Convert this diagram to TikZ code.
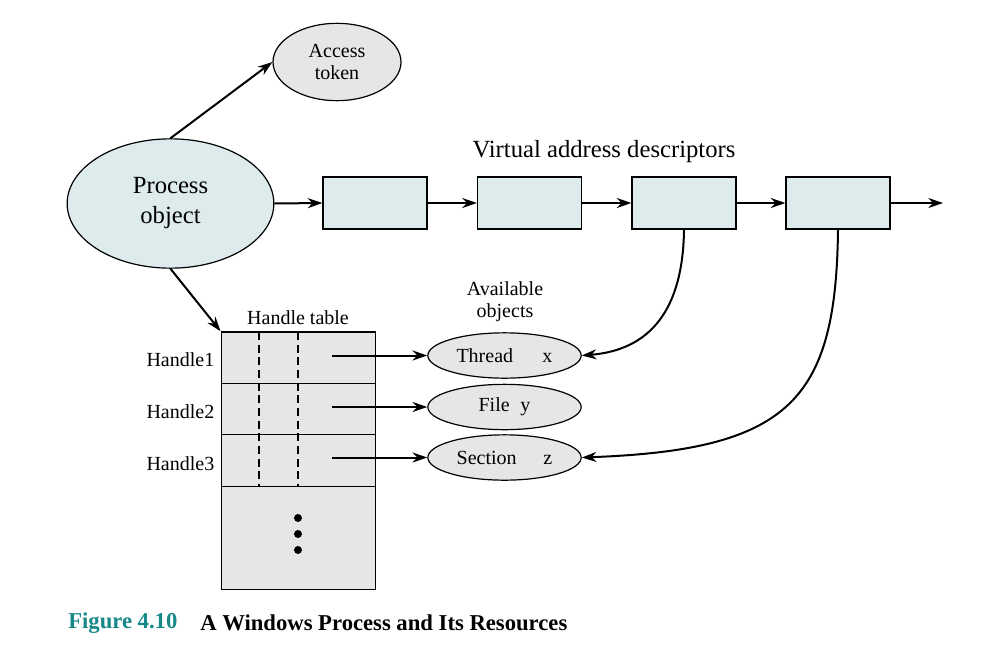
\documentclass[tikz,border=0pt]{standalone}
\usepackage{fontspec}
\setmainfont{Liberation Serif}
\usetikzlibrary{shapes.geometric,arrows.meta}
\definecolor{procblue}{RGB}{221,235,237}
\definecolor{objgray}{RGB}{230,230,232}
\definecolor{capteal}{RGB}{22,136,136}
\tikzset{
  big/.style={font=\fontsize{18.5}{22.5}\selectfont},
  med/.style={font=\fontsize{15}{16.5}\selectfont},
  arr/.style={line width=1.5pt,-{Stealth[length=11pt,width=7.5pt]}},
  vad/.style={draw,line width=0.9pt,fill=procblue,minimum width=78pt,minimum height=39pt,inner sep=0pt},
  obj/.style={ellipse,draw,line width=0.9pt,fill=objgray,minimum width=115pt,minimum height=34pt,inner sep=0pt,med},
  rowbox/.style={draw,line width=0.9pt,minimum width=116pt,minimum height=38.6pt,inner sep=0pt},
}
\begin{document}
\begin{tikzpicture}[x=0.75pt,y=-0.75pt]
\useasboundingbox (0,0) rectangle (994,660);
% process object and access token
\node[ellipse,draw,line width=0.9pt,fill=procblue,minimum width=155pt,minimum height=97pt,inner sep=0pt,big,align=center] (po) at (170.5,203.5) {Process\\object};
\node[ellipse,draw,line width=0.9pt,fill=objgray,minimum width=96pt,minimum height=58pt,inner sep=0pt,med,align=center] (at) at (337,62) {Access\\token};
% VADs
\node[vad] (b1) at (375,203) {};
\node[vad] (b2) at (529.5,203) {};
\node[vad] (b3) at (684,203) {};
\node[vad] (b4) at (838,203) {};
\coordinate (vend) at (943,203);
\node[big] (vadl) at (604,152) {Virtual address descriptors};
% handle table
\node[draw,line width=0.9pt,fill=objgray,minimum width=116pt,minimum height=193pt,inner sep=0pt] (ht) at (298.5,460.5) {};
\node[rowbox] (r1) at (298.5,357.7) {};
\node[rowbox] (r2) at (298.5,409.1) {};
\node[rowbox] (r3) at (298.5,460.5) {};
\draw[line width=0.8pt,dash pattern=on 6pt off 3.5pt] (259,332) -- (259,486);
\draw[line width=0.8pt,dash pattern=on 6pt off 3.5pt] (298,332) -- (298,486);
\foreach \yy/\nm in {518/d1,534/d2,550/d3} \fill (298,\yy) circle (3pt) coordinate (\nm);
\node[med] (htl) at (298,318) {Handle table};
\node[med,anchor=east] (h1) at (219,360) {Handle1};
\node[med,anchor=east] (h2) at (219,412) {Handle2};
\node[med,anchor=east] (h3) at (219,464) {Handle3};
% available objects
\node[med,align=center] (avl) at (505,302) {Available\\objects};
\node[obj] (th) at (504.5,355.5) {Thread\hspace{22pt}x};
\node[obj] (fi) at (504.5,407) {File\hspace{8pt}y};
\node[obj] (se) at (504.5,457.5) {Section\hspace{20pt}z};
\coordinate (a1) at (332,355.5);
\coordinate (a2) at (332,407);
\coordinate (a3) at (332,457.5);
% connectors
\draw[arr] (po.north) -- (at.west);
\draw[arr] (po.south) -- (ht.north west);
\draw[arr] (po.east) -- (b1.west);
\draw[arr] (b1.east) -- (b2.west);
\draw[arr] (b2.east) -- (b3.west);
\draw[arr] (b3.east) -- (b4.west);
\draw[arr] (b4.east) -- (vend);
\draw[arr] (a1) -- (th.west);
\draw[arr] (a2) -- (fi.west);
\draw[arr] (a3) -- (se.west);
\draw[arr] (b3.south) .. controls (683,310) and (650,350) .. (th.east);
\draw[arr] (b4.south) .. controls (836,400) and (790,450) .. (se.east);
% caption
\node[anchor=west,font=\fontsize{17}{20}\selectfont\bfseries,text=capteal,inner sep=0pt] (capn) at (68,623) {Figure 4.10};
\node[anchor=west,font=\fontsize{17}{20}\selectfont\bfseries,inner sep=0pt] (capt) at (200,623) {A Windows Process and Its Resources};
\end{tikzpicture}
\end{document}
